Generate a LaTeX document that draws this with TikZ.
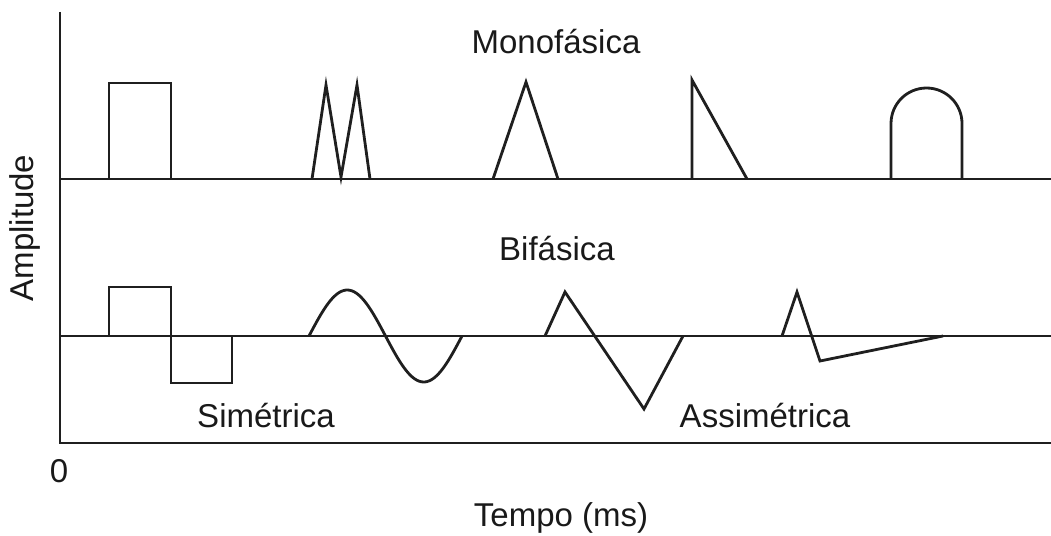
\documentclass[tikz,border=0pt]{standalone}
\usepackage{fontspec}
\setmainfont{Liberation Sans}
\begin{document}
\begin{tikzpicture}[x=1pt,y=-1pt,
  wave/.style={draw=black!88, line width=2.8pt, line join=miter},
  axisline/.style={draw=black!88, line width=2.8pt},
  lbl/.style={anchor=base, inner sep=0pt, font=\fontsize{33}{40}\selectfont, text=black!90}]
\useasboundingbox (0,0) rectangle (1051,535);
% axes and baselines
\coordinate (top) at (60,12);
\coordinate (origin) at (60,443);
\coordinate (xend) at (1051,443);
\draw[axisline] (top) -- (origin) -- (xend);
\draw[axisline] (60,179) -- (1051,179);
\draw[axisline] (60,336) -- (1051,336);
% monophasic
\draw[wave] (109,179) -- (109,83) -- (171,83) -- (171,179);
\draw[wave] (312,179) -- (326,85) -- (341,177) -- (357,85) -- (370,179);
\draw[wave] (493,179) -- (526,82) -- (558,179);
\draw[wave] (692,179) -- (692,80) -- (747,179);
\draw[wave] (891,179) -- (891,123.5) arc[start angle=180, end angle=360, radius=35.5] -- (962,179);
% biphasic
\draw[wave] (109,336) -- (109,287) -- (171,287) -- (171,383) -- (232,383) -- (232,336);
\draw[wave] plot[domain=0:360, samples=80] ({309+\x*0.425},{336-46*sin(\x)});
\draw[wave] (545,336) -- (565,292) -- (644,409) -- (683,336);
\draw[wave] (782,336) -- (797,292) -- (820,361) -- (943,336);
% labels
\node[lbl] (mono) at (556,53) {Monofásica};
\node[lbl] (bi) at (557,260) {Bifásica};
\node[lbl] (sim) at (266,427) {Simétrica};
\node[lbl] (assim) at (765,427) {Assimétrica};
\node[lbl] (zero) at (59,482) {0};
\node[lbl] (tempo) at (561,526) {Tempo (ms)};
\node[lbl, rotate=90] (amp) at (33,228) {Amplitude};
\end{tikzpicture}
\end{document}
